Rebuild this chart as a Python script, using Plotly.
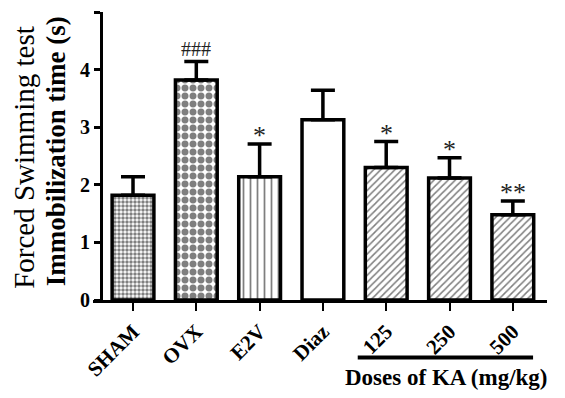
import plotly.graph_objects as go

categories = ["SHAM", "OVX", "E2V", "Diaz", "125", "250", "500"]
means = [1.82, 3.82, 2.14, 3.13, 2.30, 2.12, 1.48]
sems = [0.32, 0.32, 0.57, 0.51, 0.45, 0.35, 0.24]
marks = ["", "###", "*", "", "*", "*", "**"]
patterns = [".", ".", "|", "", "/", "/", "/"]
pattern_sizes = [4, 8, 7, 6, 5, 5, 5]
pattern_solid = [0.6, 0.6, 0.25, 0.3, 0.3, 0.3, 0.3]
y_ticks = [0, 1, 2, 3, 4, 5]

serif = "Liberation Serif"
x = list(range(len(categories)))

fig = go.Figure()
fig.add_trace(go.Bar(
    x=x, y=means, width=0.66,
    marker=dict(color="white", line=dict(color="black", width=3.5),
                pattern=dict(shape=patterns, size=pattern_sizes, solidity=pattern_solid,
                             fgcolor="black", bgcolor="white", fillmode="overlay")),
    error_y=dict(type="data", array=sems, arrayminus=[0]*len(sems), symmetric=False,
                 color="black", thickness=3.5, width=12),
    showlegend=False,
))

for i, (m, s, t) in enumerate(zip(means, sems, marks)):
    if t:
        fig.add_annotation(x=i, y=m + s, text=t, showarrow=False, yanchor="bottom",
                           yshift=0 if t == "###" else -8,
                           font=dict(family=serif, size=20 if t == "###" else 26, color="#222"))

fig.add_shape(type="line", xref="x", yref="paper", x0=3.55, x1=6.32, y0=-0.2, y1=-0.2,
              line=dict(color="black", width=4))
fig.add_annotation(x=4.96, xref="x", y=-0.27, yref="paper", text="<b>Doses of KA (mg/kg)</b>",
                   showarrow=False, xanchor="center", yanchor="middle",
                   font=dict(family=serif, size=23, color="black"))
fig.add_annotation(x=-0.152, xref="paper", y=0.497, yref="paper", text="Forced Swimming test",
                   textangle=-90, showarrow=False, xanchor="center", yanchor="middle",
                   font=dict(family=serif, size=29, color="black"))
fig.add_annotation(x=-0.081, xref="paper", y=0.517, yref="paper", text="<b>Immobilization time (s)</b>",
                   textangle=-90, showarrow=False, xanchor="center", yanchor="middle",
                   font=dict(family=serif, size=27, color="black"))

fig.update_layout(
    width=565, height=398,
    margin=dict(l=85, r=26, t=4, b=106, autoexpand=False),
    paper_bgcolor="white", plot_bgcolor="white",
)
fig.update_xaxes(
    range=[-0.632, 6.54], tickmode="array", tickvals=x,
    ticktext=[f"<b>{c}</b>" for c in categories], tickangle=-45,
    tickfont=dict(family=serif, size=21, color="black"),
    showline=True, linecolor="black", linewidth=3,
    ticks="outside", ticklen=8, tickwidth=2, tickcolor="black",
    showgrid=False, zeroline=False, automargin=False,
)
fig.update_yaxes(
    range=[0, 5], tickmode="array", tickvals=y_ticks,
    ticktext=[f"<b>{v}</b>" for v in y_ticks],
    tickfont=dict(family=serif, size=20, color="black"),
    showline=True, linecolor="black", linewidth=3,
    ticks="outside", ticklen=6, tickwidth=3, tickcolor="black",
    showgrid=False, zeroline=False, automargin=False,
    anchor="free", position=0.0176,
)
fig.write_html("out.html")
